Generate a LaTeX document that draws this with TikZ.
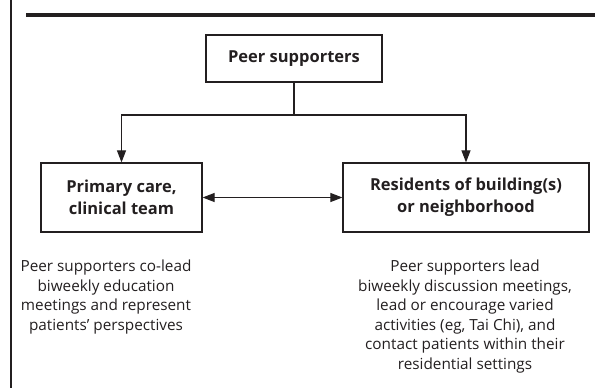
\documentclass[tikz,border=0pt]{standalone}
\usepackage{fontspec}
\setmainfont{Open Sans}
\usetikzlibrary{arrows.meta}
\definecolor{ink}{HTML}{231F20}
\tikzset{
  box/.style={draw=ink, line width=1.2pt, text=ink, font=\bfseries\fontsize{16.5}{22}\selectfont, align=center, inner sep=0pt},
  desc/.style={text=ink, font=\fontsize{15.3}{19.5}\selectfont, align=center, inner sep=0pt, anchor=north},
  conn/.style={draw=ink, line width=1.1pt},
  tip/.style={-{Triangle[length=12pt,width=9pt]}},
  tips/.style={{Triangle[length=12pt,width=9pt]}-{Triangle[length=12pt,width=9pt]}}
}
\begin{document}
\begin{tikzpicture}[x=1pt,y=-1pt]
\useasboundingbox (0,0) rectangle (599,391);
% frame and rule
\draw[ink, line width=1.5pt] (11,0) -- (11,388);
\draw[ink, line width=4pt] (26,15) -- (595,15);
% boxes
\node[box, minimum width=176pt, minimum height=47pt] (peer) at (294,58.5) {Peer supporters};
\node[box, minimum width=161pt, minimum height=69pt] (pc) at (121.5,197.5) {Primary care,\\clinical team};
\node[box, minimum width=246pt, minimum height=69pt] (res) at (466,197.5) {Residents of building(s)\\or neighborhood};
% connectors
\coordinate (j) at (294,115);
\coordinate (jl) at (121.5,115);
\coordinate (jr) at (466,115);
\draw[conn] (peer.south) -- (j);
\draw[conn, tip] (j) -- (jl) -- (pc.north);
\draw[conn, tip] (j) -- (jr) -- (res.north);
\draw[conn, tips] (pc.east) -- (res.west);
% descriptions
\node[desc] (dl) at (106,260) {Peer supporters co-lead\\biweekly education\\meetings and represent\\patients’ perspectives};
\node[desc] (dr) at (465,260) {Peer supporters lead\\biweekly discussion meetings,\\lead or encourage varied\\activities (eg, Tai Chi), and\\contact patients within their\\residential settings};
\end{tikzpicture}
\end{document}
